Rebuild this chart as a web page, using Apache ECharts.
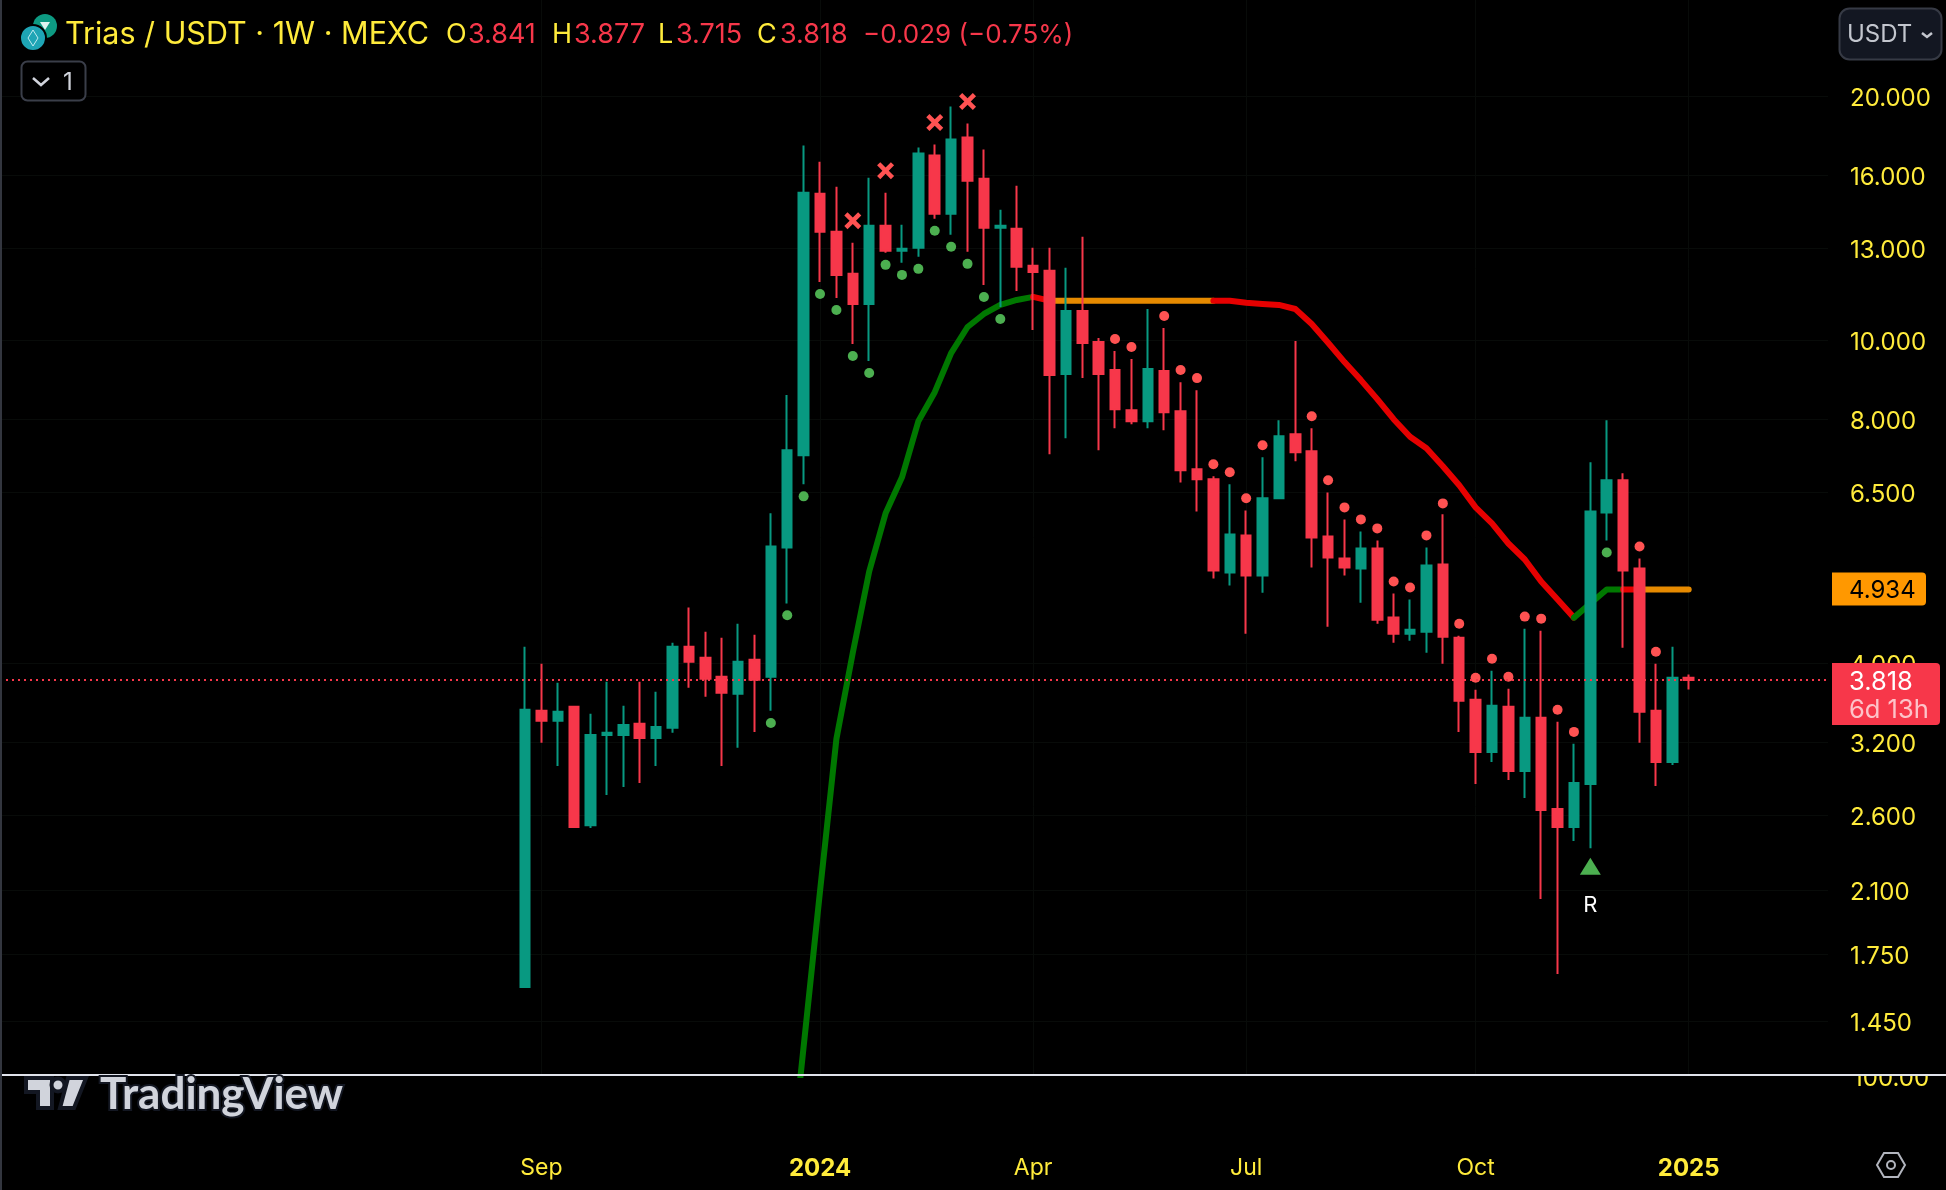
<!DOCTYPE html>
<html lang="en">

<head>
  <meta charset="UTF-8">
  <title>Trias / USDT</title>
  <script src="https://cdn.jsdelivr.net/npm/echarts@6/dist/echarts.min.js"></script>
</head>
<style>
  * {
    margin: 0px;
    padding: 0px;
  }

  body {
    background: #000;
  }

  #main {
    width: 1946px;
    height: 1190px;
  }
</style>

<body>
  <div id="main"></div>
</body>
<script>
  // weekly candles
  var opens = [1.597, 3.497, 3.399, 3.537, 2.528, 3.266, 3.266, 3.370, 3.238, 3.332, 4.195, 4.066, 3.852, 3.670, 4.043, 3.852,
    5.560, 7.224, 15.177, 13.620, 12.088, 11.098, 13.856, 12.904, 13.016, 16.910, 14.338, 17.798, 15.838, 13.778, 13.738, 12.366,
    12.191, 9.095, 10.878, 9.961, 9.199, 8.209, 7.956, 9.172, 8.186, 6.941, 6.746, 5.178, 5.753, 5.134, 6.392, 7.669,
    7.306, 5.737, 5.389, 5.238, 5.544, 4.556, 4.353, 4.378, 5.298, 4.304, 3.608, 3.112, 3.537, 2.948, 3.428, 2.646,
    2.514, 2.841, 6.142, 6.727, 5.238, 3.497, 3.024, 3.841];
  var highs = [4.195, 3.997, 3.786, 3.547, 3.467, 3.797, 3.547, 3.797, 3.691, 4.243, 4.688, 4.378, 4.304, 4.478, 4.341, 6.125,
    8.568, 17.397, 16.622, 15.482, 13.202, 15.884, 15.220, 13.896, 17.299, 17.447, 19.439, 18.521, 17.200, 14.501, 15.526, 13.016,
    13.016, 12.296, 13.429, 10.075, 9.709, 9.492, 10.941, 10.366, 8.889, 8.690, 6.804, 6.651, 6.177, 7.183, 7.979, 9.989,
    7.800, 6.501, 6.021, 5.819, 5.672, 4.878, 4.796, 5.560, 6.108, 4.328, 3.712, 3.918, 3.722, 4.415, 4.390, 3.389,
    3.184, 7.081, 7.979, 6.865, 5.389, 3.997, 4.195, 3.877];
  var lows = [1.597, 3.193, 2.990, 2.507, 2.507, 2.753, 2.817, 2.849, 2.990, 3.285, 3.733, 3.639, 2.990, 3.148, 3.294, 3.497,
    4.742, 6.651, 11.814, 11.290, 9.905, 9.437, 12.832, 12.471, 12.687, 14.135, 13.506, 12.867, 11.715, 11.004, 11.516, 10.307,
    7.244, 7.581, 8.992, 7.327, 7.800, 7.889, 7.800, 7.755, 6.688, 6.159, 5.090, 4.990, 4.353, 4.891, 6.392, 7.101,
    5.253, 4.441, 5.134, 4.754, 4.478, 4.243, 4.267, 4.123, 3.997, 3.294, 2.841, 3.024, 2.874, 2.730, 2.050, 1.657,
    2.416, 2.368, 5.672, 4.183, 3.193, 2.825, 2.998, 3.715];
  var closes = [3.507, 3.399, 3.487, 2.514, 3.266, 3.285, 3.360, 3.238, 3.341, 4.195, 4.020, 3.830, 3.680, 4.020, 3.819, 5.576,
    7.327, 15.220, 13.620, 12.053, 11.098, 13.856, 12.904, 12.979, 17.006, 14.338, 17.696, 15.747, 13.778, 13.856, 12.331, 12.156,
    9.069, 10.878, 9.933, 9.095, 8.233, 7.956, 9.225, 8.162, 6.921, 6.746, 5.208, 5.770, 5.134, 6.392, 7.625, 7.285,
    5.721, 5.404, 5.253, 5.544, 4.530, 4.353, 4.403, 5.283, 4.316, 3.598, 3.112, 3.547, 2.948, 3.428, 2.639, 2.514,
    2.849, 6.159, 6.727, 5.208, 3.487, 3.024, 3.841, 3.818];

  // trend line, one value per candle (starts at candle 16)
  var lineValues = [null, null, null, null, null, null, null, null, null, null, null, null, null, null, null, null,
    0.868, 1.348, 2.096, 3.229, 4.123, 5.193, 6.125, 6.785, 7.956, 8.640, 9.655, 10.396, 10.787, 11.067, 11.225, 11.322,
    11.202, 11.202, 11.202, 11.202, 11.202, 11.202, 11.202, 11.202, 11.202, 11.202, 11.202, 11.202, 11.138, 11.098, 11.067, 10.941,
    10.485, 9.941, 9.410, 8.941, 8.470, 8.002, 7.614, 7.369, 7.001, 6.633, 6.230, 5.953, 5.623, 5.373, 5.047, 4.796,
    4.556, 4.742, 4.934, 4.934, 4.934, 4.934, 4.934, 4.934];
  var lineParts = [[16, 31, '#007800'], [31, 32, '#e60000'], [32, 42, '#e68a00'], [42, 64, '#e60000'],
    [64, 67, '#007800'], [67, 68, '#e60000'], [68, 71, '#e68a00']];

  var greenDots = [[15, 3.379], [16, 4.587], [17, 6.428], [18, 11.419], [19, 10.910], [20, 9.573], [21, 9.121], [22, 12.401],
    [23, 12.053], [24, 12.261], [25, 13.659], [26, 13.053], [27, 12.436], [28, 11.322], [29, 10.635], [66, 5.481]];
  var redDots = [[36, 10.046], [37, 9.821], [39, 10.726], [40, 9.199], [41, 8.992], [42, 7.041], [43, 6.882], [44, 6.392],
    [45, 7.432], [48, 8.071], [49, 6.727], [50, 6.230], [51, 6.021], [52, 5.869], [53, 5.047], [54, 4.962], [55, 5.754],
    [56, 6.301], [57, 4.478], [58, 3.841], [59, 4.054], [60, 3.852], [61, 4.569], [62, 4.543], [63, 3.507], [64, 3.294],
    [68, 5.576], [69, 4.136]];
  var crosses = [[20, 14.054], [22, 16.202], [25, 18.573], [27, 19.715]];
  var triangles = [[65, 2.250]];

  var priceTicks = [20, 16, 13, 10, 8, 6.5, 4, 3.2, 2.6, 2.1, 1.75, 1.45];
  var lastPrice = 3.818;
  var linePrice = 4.934;
  var timeTickIndex = [1, 18, 31, 44, 58, 71];
  var timeTickLabel = ['Sep', '2024', 'Apr', 'Jul', 'Oct', '2025'];

  var YELLOW = '#FFEB3B';
  var RED = '#F7374A';
  var GREEN = '#089981';
  var FONT = 'Inter';

  var candles = opens.map(function (o, i) {
    return [i, o, closes[i], lows[i], highs[i]];
  });

  var lineSeries = lineParts.map(function (part) {
    return {
      type: 'line',
      z: 2,
      symbol: 'none',
      silent: true,
      lineStyle: { color: part[2], width: 6, cap: 'round', join: 'round' },
      data: lineValues.map(function (v, i) {
        return [i, i >= part[0] && i <= part[1] ? v : null];
      })
    };
  });

  var chart = echarts.init(document.getElementById('main'));
  chart.setOption({
    animation: false,
    backgroundColor: '#000',
    grid: { left: 0, top: 0, width: 1828, height: 1075 },
    xAxis: {
      type: 'value',
      min: -32.032,
      max: 79.5,
      axisLine: { show: false },
      axisTick: { show: false, customValues: timeTickIndex },
      splitLine: { show: true, lineStyle: { color: '#080b09', width: 1 } },
      axisLabel: {
        customValues: timeTickIndex,
        margin: 82,
        color: YELLOW,
        fontFamily: FONT,
        fontSize: 23,
        formatter: function (v) {
          var text = timeTickLabel[timeTickIndex.indexOf(v)];
          return /^\d/.test(text) ? '{b|' + text + '}' : text;
        },
        rich: {
          b: { fontWeight: 'bold', fontSize: 24, fontFamily: FONT, color: YELLOW }
        }
      }
    },
    yAxis: {
      type: 'log',
      logBase: 10,
      position: 'right',
      min: 1.2438,
      max: 26.30,
      axisLine: { show: false },
      axisTick: { show: false, customValues: priceTicks },
      splitLine: { show: true, lineStyle: { color: '#080b09', width: 1 } },
      minorSplitLine: { show: false },
      axisLabel: {
        customValues: priceTicks,
        margin: 22,
        verticalAlign: 'top',
        lineHeight: 5,
        color: YELLOW,
        fontFamily: FONT,
        fontSize: 24,
        formatter: function (v) {
          return Number(v).toFixed(3);
        }
      }
    },
    series: lineSeries.concat([{
      type: 'candlestick',
      z: 3,
      barWidth: 10,
      encode: { x: 0, y: [1, 2, 3, 4] },
      itemStyle: {
        color: GREEN,
        color0: RED,
        borderColor: GREEN,
        borderColor0: RED,
        borderColorDoji: RED,
        borderWidth: 2
      },
      data: candles,
      markLine: {
        silent: true,
        symbol: 'none',
        z: 5,
        label: { show: false },
        lineStyle: { color: RED, type: [2, 4], width: 2 },
        data: [{ yAxis: lastPrice }]
      }
    }, {
      type: 'scatter',
      z: 4,
      symbol: 'circle',
      symbolSize: 10,
      itemStyle: { color: '#4CAF50', opacity: 1 },
      data: greenDots
    }, {
      type: 'scatter',
      z: 4,
      symbol: 'circle',
      symbolSize: 10,
      itemStyle: { color: '#FF5252', opacity: 1 },
      data: redDots
    }, {
      type: 'scatter',
      z: 4,
      symbol: 'path://M3 0 L8 5 L13 0 L16 3 L11 8 L16 13 L13 16 L8 11 L3 16 L0 13 L5 8 L0 3 Z',
      symbolSize: 17,
      itemStyle: { color: '#FF5252', opacity: 1 },
      data: crosses
    }, {
      type: 'scatter',
      z: 4,
      symbol: 'triangle',
      symbolSize: [21, 17],
      itemStyle: { color: '#4CAF50', opacity: 1 },
      label: {
        show: true,
        position: 'bottom',
        distance: 20,
        formatter: 'R',
        color: '#fff',
        fontFamily: FONT,
        fontSize: 22
      },
      data: triangles
    }])
  });

  function text(str, x, y, color, font, z) {
    return {
      type: 'text',
      z: z || 60,
      style: { text: str, x: x, y: y, fill: color, font: font, align: 'left', verticalAlign: 'middle' }
    };
  }

  function tag(y, x2, h, color) {
    return {
      type: 'rect',
      z: 55,
      shape: { x: 1832, y: y, width: x2 - 1832, height: h, r: [0, 4, 4, 0] },
      style: { fill: color }
    };
  }

  var axisFont = '24px ' + FONT;
  var tagFont = '25.5px ' + FONT;
  var headFont = '27px ' + FONT;
  var yLine = chart.convertToPixel({ yAxisIndex: 0 }, linePrice);
  var yLast = chart.convertToPixel({ yAxisIndex: 0 }, lastPrice);

  chart.setOption({
    graphic: [
      // left edge of the frame
      { type: 'rect', z: 70, shape: { x: 0, y: 0, width: 2, height: 1190 }, style: { fill: '#33363f' } },

      // symbol logos
      { type: 'circle', z: 60, shape: { cx: 45, cy: 26, r: 12 }, style: { fill: '#0d9a82' } },
      { type: 'polygon', z: 61, shape: { points: [[40, 22], [50, 22], [45, 30]] }, style: { fill: '#dff5f0' } },
      { type: 'circle', z: 62, shape: { cx: 33, cy: 38, r: 13 }, style: { fill: '#1ea5b5', stroke: '#000', lineWidth: 2 } },
      { type: 'polygon', z: 63, shape: { points: [[33, 30], [38, 38], [33, 46], [28, 38]] }, style: { fill: 'none', stroke: '#bfeaf0', lineWidth: 1 } },

      // title row
      text('Trias / USDT · 1W · MEXC', 65, 35, YELLOW, '30.5px ' + FONT),
      text('O', 446, 35, YELLOW, headFont),
      text('3.841', 468, 35, RED, headFont),
      text('H', 552, 35, YELLOW, headFont),
      text('3.877', 574, 35, RED, headFont),
      text('L', 658, 35, YELLOW, headFont),
      text('3.715', 676, 35, RED, headFont),
      text('C', 757, 35, YELLOW, headFont),
      text('3.818', 780, 35, RED, headFont),
      text('−0.029 (−0.75%)', 863, 35, RED, '26px ' + FONT),

      // collapse button
      { type: 'rect', z: 60, shape: { x: 21.5, y: 61.5, width: 64, height: 39, r: 6 }, style: { fill: '#000', stroke: '#3a3e49', lineWidth: 2 } },
      { type: 'polyline', z: 61, shape: { points: [[33, 78], [41, 85], [49, 78]] }, style: { fill: 'none', stroke: '#d1d4dc', lineWidth: 2.5 } },
      text('1', 63, 83, '#d1d4dc', '24px ' + FONT),

      // currency button
      { type: 'rect', z: 60, shape: { x: 1839.5, y: 8.5, width: 102, height: 51, r: 10 }, style: { fill: '#131722', stroke: '#363a45', lineWidth: 2 } },
      text('USDT', 1847, 35, '#c3c6ce', '24px ' + FONT, 61),
      { type: 'polyline', z: 61, shape: { points: [[1922, 33], [1927, 37], [1932, 33]] }, style: { fill: 'none', stroke: '#c3c6ce', lineWidth: 2.5 } },

      // price tags
      tag(yLine - 17, 1926, 33, '#FF9800'),
      text(linePrice.toFixed(3), 1849, yLine + 1, '#000', axisFont),
      tag(yLast - 17, 1940, 62, RED),
      text(lastPrice.toFixed(3), 1849, yLast + 2, '#fff', tagFont),
      text('6d 13h', 1849, yLast + 30, 'rgba(255,255,255,0.7)', tagFont),

      // lower pane label cut by the separator
      text('100.00', 1853, 1079, YELLOW, axisFont, 50),
      { type: 'rect', z: 51, shape: { x: 1832, y: 1050, width: 114, height: 25 }, style: { fill: '#000' } },
      { type: 'rect', z: 52, shape: { x: 2, y: 1074, width: 1944, height: 2 }, style: { fill: '#e0e3eb' } },

      // TradingView logo
      { type: 'polygon', z: 60, shape: { points: [[26, 1078], [52, 1078], [52, 1108], [38, 1108], [38, 1092], [26, 1092]] }, style: { fill: '#d1d4dc', stroke: '#131722', lineWidth: 4 } },
      { type: 'circle', z: 60, shape: { cx: 58, cy: 1085, r: 6.5 }, style: { fill: '#d1d4dc', stroke: '#131722', lineWidth: 4 } },
      { type: 'polygon', z: 60, shape: { points: [[68, 1078], [86, 1078], [74, 1108], [60, 1108]] }, style: { fill: '#d1d4dc', stroke: '#131722', lineWidth: 4 } },
      {
        type: 'text',
        z: 60,
        style: { text: 'TradingView', x: 100, y: 1095, fill: '#d1d4dc', stroke: '#131722', lineWidth: 4, font: 'bold 44px Lato', align: 'left', verticalAlign: 'middle' }
      },

      // settings icon
      { type: 'polygon', z: 60, shape: { points: [[1877, 1165], [1884, 1153], [1898, 1153], [1905, 1165], [1898, 1177], [1884, 1177]] }, style: { fill: 'none', stroke: '#b2b5be', lineWidth: 2 } },
      { type: 'circle', z: 60, shape: { cx: 1891, cy: 1165, r: 4 }, style: { fill: 'none', stroke: '#b2b5be', lineWidth: 2 } }
    ]
  });
</script>

</html>
